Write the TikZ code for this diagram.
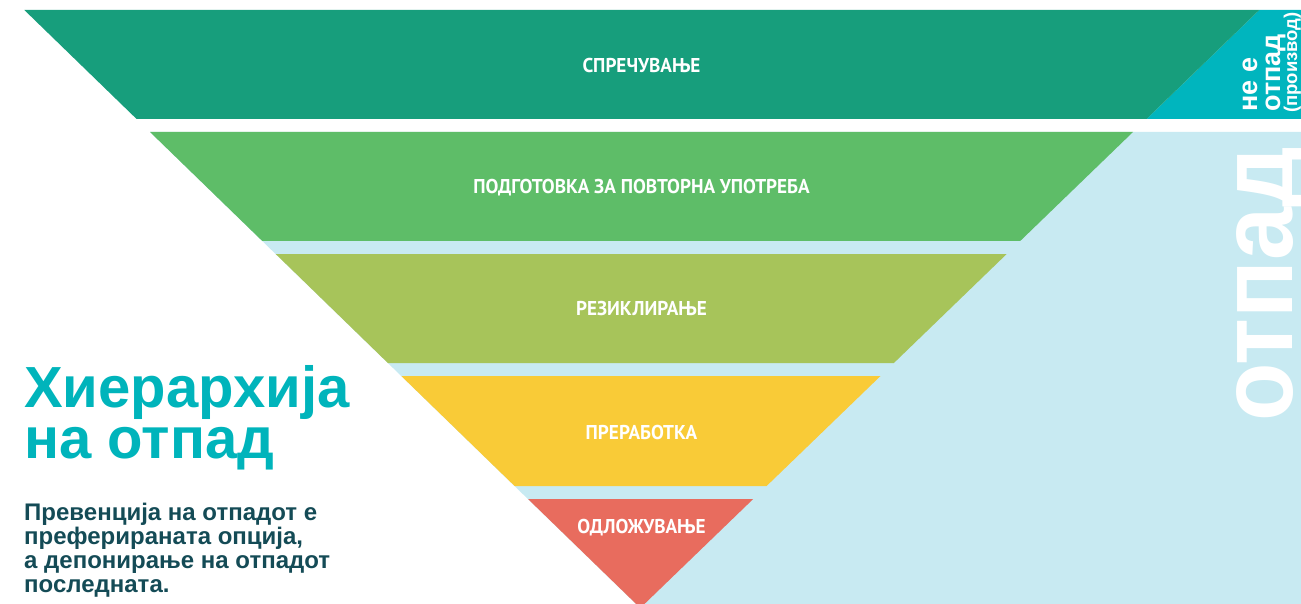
\documentclass[tikz,border=0pt]{standalone}
\usepackage{fontspec}
\setmainfont{Liberation Sans}
\newfontfamily\bandfont[FakeStretch=0.96]{PT Sans}
\definecolor{cDark}{HTML}{179E7C}
\definecolor{cTeal}{HTML}{00B5BE}
\definecolor{cGreen}{HTML}{5EBD68}
\definecolor{cOlive}{HTML}{A7C45A}
\definecolor{cYellow}{HTML}{F9CB37}
\definecolor{cRed}{HTML}{E86C5E}
\definecolor{cLight}{HTML}{C8EAF2}
\definecolor{cTitle}{HTML}{00B4BB}
\definecolor{cSub}{HTML}{144B56}
\tikzset{
  bandlabel/.style={text=white, inner sep=0pt, font=\bandfont\bfseries\fontsize{20}{20}\selectfont},
  sidetext/.style={text=white, inner sep=0pt, rotate=90, anchor=base west},
}
\begin{document}
\begin{tikzpicture}[x=1pt,y=-1pt]
\useasboundingbox (0,0) rectangle (1301,604);
\clip (0,0) rectangle (1301,604);
% light blue waste area
\fill[cLight] (150,132) -- (1301,132) -- (1301,604) -- (636,604) -- cycle;
% teal "not waste" area
\fill[cTeal] (1259.3,10) -- (1301,10) -- (1301,119) -- (1146.5,119) -- cycle;
% bands
\fill[cDark]   (24.3,10)  -- (1259.3,10)  -- (1146.5,119) -- (136.6,119) -- cycle;
\fill[cGreen]  (150,132)  -- (1133,132)   -- (1020.2,241) -- (262.3,241) -- cycle;
\fill[cOlive]  (275.7,254) -- (1006.7,254) -- (893.9,363) -- (387.9,363) -- cycle;
\fill[cYellow] (401.3,376) -- (880.5,376) -- (766.6,486) -- (514.6,486) -- cycle;
\fill[cRed]    (528,499)  -- (753.2,499)  -- (640.3,608) -- cycle;
% band labels
\node[bandlabel] (l1) at (641.5,66) {СПРЕЧУВАЊЕ};
\node[bandlabel] (l2) at (641.5,188) {ПОДГОТОВКА ЗА ПОВТОРНА УПОТРЕБА};
\node[bandlabel] (l3) at (641.5,309) {РЕЗИКЛИРАЊЕ};
\node[bandlabel] (l4) at (641.5,432) {ПРЕРАБОТКА};
\node[bandlabel] (l5) at (641.5,528) {ОДЛОЖУВАЊЕ};
% side texts
\node[sidetext, font=\bfseries\fontsize{27}{27}\selectfont] (ne) at (1257,112) {не е};
\node[sidetext, font=\bfseries\fontsize{27}{27}\selectfont] (otp) at (1280,112) {отпад};
\node[sidetext, font=\bfseries\fontsize{18.5}{18.5}\selectfont] (proiz) at (1297,113) {(производ)};
\node[sidetext, font=\bfseries\fontsize{104}{104}\selectfont] (waste) at (1292,422) {\scalebox{0.92}[1]{отпад}};
% title
\node[anchor=base west, inner sep=0pt, text=cTitle] (title) at (24,407)
  {\parbox[t]{400pt}{\fontsize{58}{51}\selectfont\bfseries Хиерархија\\на отпад}};
\node[anchor=base west, inner sep=0pt, text=cSub] (sub) at (24,520)
  {\parbox[t]{400pt}{\fontsize{24}{24.2}\selectfont\bfseries Превенција на отпадот е\\преферираната опција,\\а депонирање на отпадот\\последната.}};
\end{tikzpicture}
\end{document}
